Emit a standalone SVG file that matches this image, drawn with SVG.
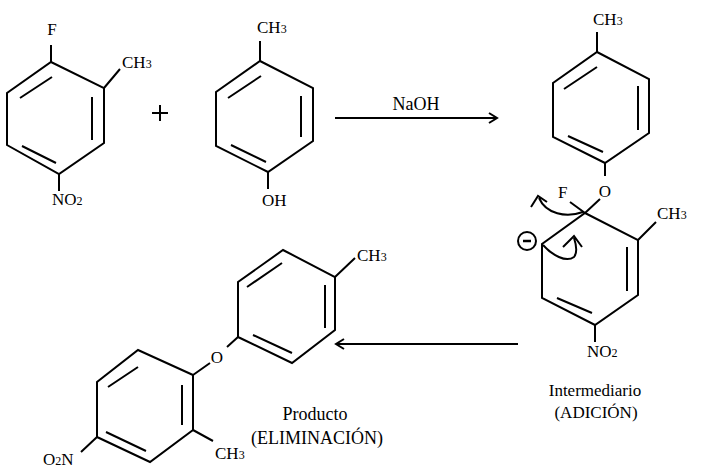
<svg xmlns="http://www.w3.org/2000/svg" width="706" height="474" viewBox="0 0 706 474">
<style>
.b{stroke:#000;stroke-width:2;fill:none;stroke-linejoin:miter}
.t{font-family:"Liberation Serif","Times New Roman",serif;font-size:17px;fill:#000}
.s{font-size:12px}
.m{text-anchor:middle}
.c1{font-size:17px}
.c2{font-size:18px}
</style>
<rect width="706" height="474" fill="#fff"/>
<g id="reactant-fluoronitrotoluene">
<polygon class="b" points="51,62 104,88 104,143 59,174 7,145 7,93"/>
<path class="b" d="M20,98 L52,77 M92,97 L92,140 M22,146 L56,163 M51,62 L51,45 M104,88 L120,69 M59,174 L59,191"/>
<text class="t m" x="52" y="35">F</text>
<text class="t" x="122" y="68">CH<tspan class="s">3</tspan></text>
<text class="t" x="52" y="205">NO<tspan class="s">2</tspan></text>
</g>
<g id="plus">
<path class="b" d="M152,113 L168,113 M160,105 L160,121"/>
</g>
<g id="reactant-cresol">
<polygon class="b" points="260,61 313,88 313,141 268,172 216,146 216,92"/>
<path class="b" d="M228,98 L261,76 M301,96 L301,137 M231,145 L266,162 M260,61 L260,41 M268,172 L268,189"/>
<text class="t" x="257" y="33">CH<tspan class="s">3</tspan></text>
<text class="t" x="262" y="206">OH</text>
</g>
<g id="intermediate">
<polygon class="b" points="597,52 649,79 649,133 605,163 553,137 553,83"/>
<path class="b" d="M564,89 L597,67 M638,86 L638,130 M568,136 L603,152 M597,52 L597,32 M605,163 L605,176"/>
<text class="t" x="593" y="25">CH<tspan class="s">3</tspan></text>
<text class="t m" x="605" y="197">O</text>
<path class="b" d="M600,199 L585,213 M570,202 L585,213"/>
<text class="t" x="558" y="198">F</text>
<path class="b" d="M585,213 L638,240 L638,295 L595,325 L542,298 L542,244 Z"/>
<path class="b" d="M627,247 L627,291 M557,298 L592,313 M638,240 L656,222 M595,325 L595,342"/>
<text class="t" x="657" y="219">CH<tspan class="s">3</tspan></text>
<text class="t" x="587" y="357">NO<tspan class="s">2</tspan></text>
<circle class="b" cx="527" cy="241" r="9"/>
<path stroke="#000" stroke-width="2.5" d="M523,241 L531,241"/>
<text class="t m c1" x="595" y="396">Intermediario</text>
<text class="t m c1" x="596" y="418">(ADICIÓN)</text>
</g>
<g id="product">
<polygon class="b" points="283,250 335,277 335,330 292,363 238,337 238,282"/>
<path class="b" d="M247,287 L282,263 M325,285 L325,328 M253,335 L292,353 M335,277 L355,258"/>
<text class="t" x="357" y="261">CH<tspan class="s">3</tspan></text>
<text class="t m" x="217" y="363">O</text>
<path class="b" d="M227,347 L238,337 M210,363 L193,375"/>
<polygon class="b" points="193,375 138,350 97,382 97,437 150,462 193,430"/>
<path class="b" d="M108,387 L138,367 M182,385 L182,425 M106,432 L146,451 M193,430 L213,441 M97,437 L81,452"/>
<text class="t" x="215" y="459">CH<tspan class="s">3</tspan></text>
<text class="t" x="43" y="465">O<tspan class="s">2</tspan>N</text>
<text class="t m c2" x="315" y="420">Producto</text>
<text class="t m c2" x="317" y="444">(ELIMINACIÓN)</text>
</g>
<g id="connectors">
<path class="b" d="M335,118 L496,118 M489,113 L497,118 L489,123"/>
<text class="t m c2" x="416" y="110">NaOH</text>
<path class="b" d="M518,344 L337,344 M344,339 L336,344 L344,349"/>
<path class="b" d="M583,212 C566,218 546,214 539,198 M531,207 L538,196 L547,202"/>
<path class="b" d="M543,245 C552,255 566,263 574,257 C578,252 576,244 574,238 M563,247 L574,236 L582,247"/>
</g>
</svg>
